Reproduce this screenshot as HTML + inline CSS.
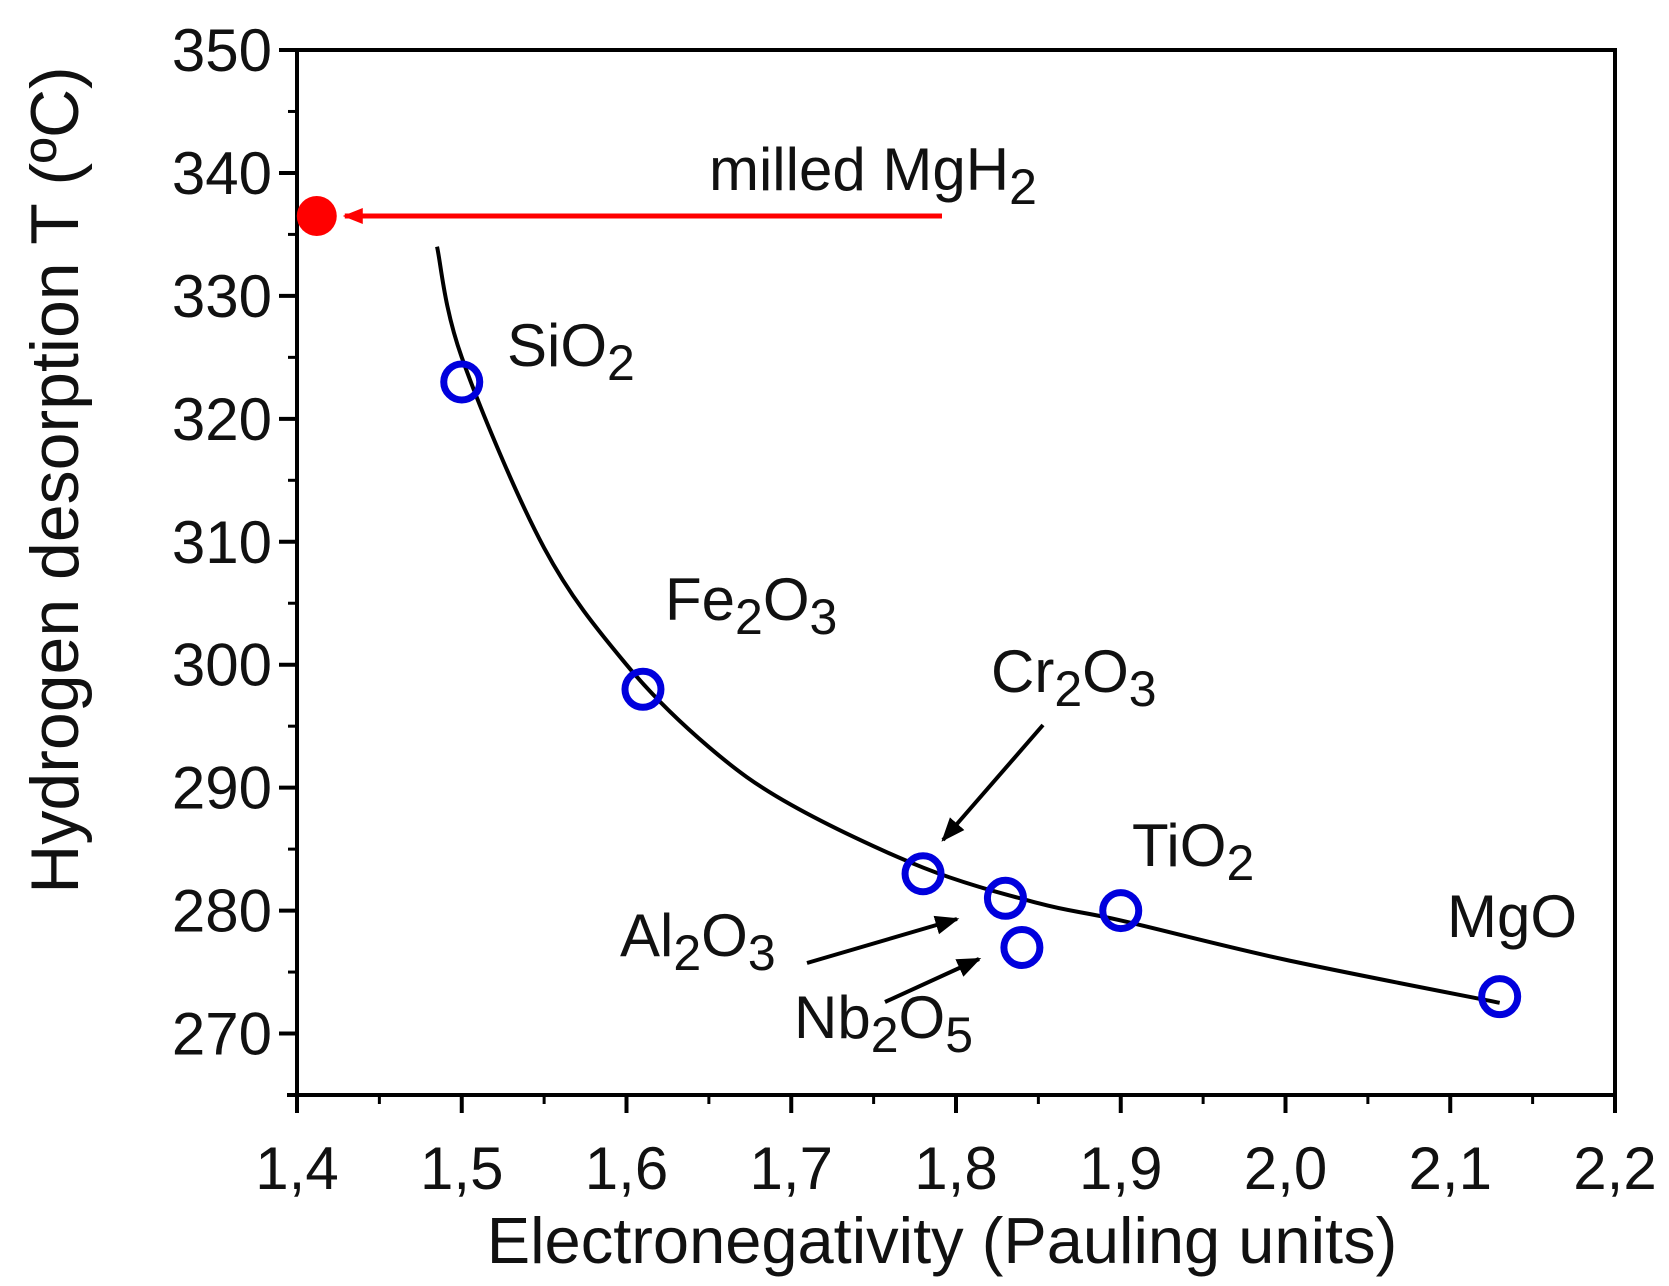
<!DOCTYPE html>
<html><head><meta charset="utf-8"><style>
html,body{margin:0;padding:0;background:#fff;}
svg{display:block;font-family:"Liberation Sans",Arial,sans-serif;}
</style></head><body>
<svg id="chart" width="1669" height="1286" viewBox="0 0 1669 1286">
<defs>
<marker id="ah" viewBox="0 0 10 10" refX="9" refY="5" markerWidth="6" markerHeight="6" orient="auto"><path d="M0,1 L10,5 L0,9 z" fill="#000"/></marker>
<marker id="ahr" viewBox="0 0 10 10" refX="9" refY="5" markerWidth="4" markerHeight="4" orient="auto"><path d="M0,1 L10,5 L0,9 z" fill="#f00"/></marker>
</defs>
<g id="plot"></g>
</svg>
<script>
const xTicks=[1.4,1.5,1.6,1.7,1.8,1.9,2.0,2.1,2.2];
const xTickLabels=["1,4","1,5","1,6","1,7","1,8","1,9","2,0","2,1","2,2"];
const yTicks=[270,280,290,300,310,320,330,340,350];
const names=["SiO2","Fe2O3","Cr2O3","Al2O3","Nb2O5","TiO2","MgO"];
const xVals=[1.5,1.61,1.78,1.83,1.84,1.9,2.13];
const yVals=[323,298,283,281,277,280,273];
const fitX=[1.485,1.5,1.55,1.6,1.65,1.7,1.78,1.85,1.9,2.0,2.13];
const fitY=[334,325,309.5,300,293.3,288.6,283.5,280.6,279.2,276,272.5];
const refX=[1.412];const refY=[336.5];

const L=297,R=1615,T=50,B=1095,xmin=1.4,xmax=2.2,ymin=265,ymax=350;
const sx=v=>L+(v-xmin)/(xmax-xmin)*(R-L);
const sy=v=>B-(v-ymin)/(ymax-ymin)*(B-T);
const NS="http://www.w3.org/2000/svg";
const g=document.getElementById('plot');
function mk(t,a,p){const e=document.createElementNS(NS,t);for(const k in a)e.setAttribute(k,a[k]);(p||g).appendChild(e);return e;}

let fr=mk('rect',{x:L,y:T,width:R-L,height:B-T,fill:'none',stroke:'#000','stroke-width':4});


mk('line',{x1:L-10,y1:B,x2:L,y2:B,stroke:'#000','stroke-width':4});

xTicks.forEach((v,i)=>{
  let t=mk('line',{x1:sx(v),y1:B,x2:sx(v),y2:B+18,stroke:'#000','stroke-width':4});
  
  
  if(i<xTicks.length-1){mk('line',{x1:sx(v+0.05),y1:B,x2:sx(v+0.05),y2:B+9,stroke:'#000','stroke-width':3});}
  let l=mk('text',{x:sx(v),y:B+94,'font-size':60,'text-anchor':'middle',fill:'#111'});
  l.textContent=xTickLabels[i];
  
  
});
yTicks.forEach((v,i)=>{
  let t=mk('line',{x1:L-18,y1:sy(v),x2:L,y2:sy(v),stroke:'#000','stroke-width':4});
  
  
  mk('line',{x1:L-9,y1:sy(v-5),x2:L,y2:sy(v-5),stroke:'#000','stroke-width':3});
  let l=mk('text',{x:L-25,y:sy(v)+21,'font-size':60,'text-anchor':'end',fill:'#111'});
  l.textContent=String(v);
  
  
});
let xt=mk('text',{x:942,y:1263,'font-size':65,'text-anchor':'middle',fill:'#111'});
xt.textContent='Electronegativity (Pauling units)';


let yt=mk('text',{x:0,y:0,'font-size':68,'text-anchor':'middle',fill:'#111',transform:'translate(78,480) rotate(-90)'});
yt.textContent='Hydrogen desorption T (ºC)';



const P=fitX.map((x,i)=>[sx(x),sy(fitY[i])]);
let d='M'+P[0][0]+','+P[0][1];
for(let i=0;i<P.length-1;i++){const p0=P[Math.max(0,i-1)],p1=P[i],p2=P[i+1],p3=P[Math.min(P.length-1,i+2)];
d+=` C${p1[0]+(p2[0]-p0[0])/6},${p1[1]+(p2[1]-p0[1])/6} ${p2[0]-(p3[0]-p1[0])/6},${p2[1]-(p3[1]-p1[1])/6} ${p2[0]},${p2[1]}`;}
let fc=mk('path',{d:d,fill:'none',stroke:'#000','stroke-width':4});



let ra=mk('line',{x1:942,y1:sy(refY[0]),x2:sx(refX[0])+28,y2:sy(refY[0]),stroke:'#f00','stroke-width':5,'marker-end':'url(#ahr)'});


let rp=mk('circle',{cx:sx(refX[0]),cy:sy(refY[0]),r:20,fill:'#f00'});



xVals.forEach((x,i)=>{
  let c=mk('circle',{cx:sx(x),cy:sy(yVals[i]),r:18,fill:'none',stroke:'#0000dd','stroke-width':7});
  
  
});

[[1043,725,943,840],[807,963,957,919],[885,1002,979,959]].forEach((a,i)=>{
  let l=mk('line',{x1:a[0],y1:a[1],x2:a[2],y2:a[3],stroke:'#000','stroke-width':4,'marker-end':'url(#ah)'});
  
  
});
</script>
<svg width="1669" height="1286" style="position:absolute;left:0;top:0" font-family="Liberation Sans, Arial, sans-serif" font-size="60" fill="#111">
<text x="709" y="190">milled MgH<tspan font-size="50" dy="14">2</tspan></text>
<text x="507" y="366">SiO<tspan font-size="50" dy="14">2</tspan></text>
<text x="665" y="620">Fe<tspan font-size="50" dy="14">2</tspan><tspan dy="-14">O</tspan><tspan font-size="50" dy="14">3</tspan></text>
<text x="991" y="692">Cr<tspan font-size="50" dy="14">2</tspan><tspan dy="-14">O</tspan><tspan font-size="50" dy="14">3</tspan></text>
<text x="1132" y="866">TiO<tspan font-size="50" dy="14">2</tspan></text>
<text x="1447" y="937">MgO</text>
<text x="620" y="956">Al<tspan font-size="50" dy="14">2</tspan><tspan dy="-14">O</tspan><tspan font-size="50" dy="14">3</tspan></text>
<text x="794" y="1038">Nb<tspan font-size="50" dy="14">2</tspan><tspan dy="-14">O</tspan><tspan font-size="50" dy="14">5</tspan></text>
</svg>
</body></html>
